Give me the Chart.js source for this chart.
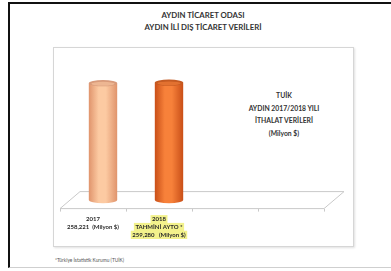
<!DOCTYPE html>
<html>
<head>
<meta charset="utf-8">
<script src="https://cdn.jsdelivr.net/npm/chart.js@4"></script>
<style>
  html, body { margin: 0; padding: 0; background: #fff; }
  #wrap { position: relative; width: 391px; height: 271px; overflow: hidden;
          font-family: Lato, "Open Sans", sans-serif; font-weight: bold; color: #333; }
  .frame { position: absolute; left: 8px; top: 2px; width: 390px; height: 266px;
           border-top: 2px solid #111; border-left: 2px solid #111; border-bottom: 1px solid #cfcfcf; box-sizing: border-box; }
  .box { position: absolute; left: 53px; top: 47px; width: 301px; height: 200px; box-sizing: border-box;
         border: 1.5px solid #d6d6d6; box-shadow: 1px 1px 2px rgba(0,0,0,0.12); background: #fff; }
  .title { position: absolute; left: 103px; width: 200px; text-align: center; font-size: 7.8px; line-height: 12px; top: 9px; }
  .note { position: absolute; left: 234px; width: 100px; text-align: center; font-size: 6.8px; line-height: 12.5px; top: 89px; }
  .foot { position: absolute; left: 55px; top: 257px; font-size: 4.8px; font-weight: normal; color: #555; }
  canvas { position: absolute; left: 0; top: 0; }
</style>
</head>
<body>
<div id="wrap">
  <div class="frame"></div>
  <div class="box"></div>
  <div class="title">AYDIN TİCARET ODASI<br>AYDIN İLİ DIŞ TİCARET VERİLERİ</div>
  <div class="note">TUİK<br>AYDIN 2017/2018 YILI<br>İTHALAT VERİLERİ<br>(Milyon $)</div>
  <div class="foot">*Türkiye İstatistik Kurumu (TUİK)</div>
  <canvas id="chart" width="391" height="271"></canvas>
</div>
<script>
// data
const categories = [
  ["2017", "258,221  (Milyon $)"],
  ["2018", "TAHMİNİ AYTO *", "259,280   (Milyon $)"],
  "",
  ""
];
const values = [258221, 259280, null, null];
const highlighted = 1; // label with yellow marker
// [edge, middle, cap] colours per bar
const barShades = [
  ["#e0946c", "#fccaa2", "#d89a7a"],
  ["#c94f18", "#f7813a", "#c45a22"]
];

const DEPTH_X = 20, DEPTH_Y = -17; // 3d floor depth
const TICK_FONT = { family: "Lato", size: 6, weight: "bold", lineHeight: 1.3 };
const TICK_LEN = 3, TICK_PAD = 4;

// yellow marker behind the 2018 label lines
const marker = {
  id: "marker",
  beforeDraw(chart) {
    const { ctx } = chart;
    const sx = chart.scales.x;
    const lines = categories[highlighted];
    const cx = sx.getPixelForTick(highlighted);
    const lh = TICK_FONT.size * TICK_FONT.lineHeight;
    const y0 = sx.top + TICK_LEN + TICK_PAD;
    ctx.save();
    ctx.font = `bold ${TICK_FONT.size}px Lato`;
    ctx.fillStyle = "#f3f28c";
    lines.forEach((t, j) => {
      const w = ctx.measureText(t).width + 3;
      ctx.fillRect(cx - w / 2, y0 + j * lh - 0.5, w, lh + 0.5);
    });
    ctx.restore();
  }
};

const floor = {
  id: "floor",
  beforeDatasetsDraw(chart) {
    const { ctx, chartArea: a } = chart;
    ctx.save();
    ctx.strokeStyle = "#c9c9c9";
    ctx.lineWidth = 1;
    ctx.beginPath();
    ctx.moveTo(a.left, a.bottom);
    ctx.lineTo(a.right, a.bottom);
    ctx.lineTo(a.right + DEPTH_X, a.bottom + DEPTH_Y);
    ctx.lineTo(a.left + DEPTH_X, a.bottom + DEPTH_Y);
    ctx.closePath();
    ctx.stroke();
    ctx.restore();
  }
};

const cylinders = {
  id: "cylinders",
  afterDatasetsDraw(chart) {
    const { ctx } = chart;
    const meta = chart.getDatasetMeta(0);
    meta.data.forEach((bar, i) => {
      if (values[i] == null) return;
      const p = bar.getProps(["x", "y", "base", "width"], true);
      const cx = p.x + DEPTH_X / 2, top = p.y + DEPTH_Y / 2, bot = p.base + DEPTH_Y / 2;
      const w = p.width, l = cx - w / 2, ry = w * 0.11;
      const [edge, mid, cap] = barShades[i];
      const g = ctx.createLinearGradient(l, 0, l + w, 0);
      g.addColorStop(0, edge);
      g.addColorStop(0.35, mid);
      g.addColorStop(0.6, mid);
      g.addColorStop(1, edge);
      ctx.save();
      ctx.fillStyle = g;
      ctx.beginPath();
      ctx.moveTo(l, top);
      ctx.lineTo(l, bot);
      ctx.ellipse(cx, bot, w / 2, ry, 0, Math.PI, 0, true);
      ctx.lineTo(l + w, top);
      ctx.closePath();
      ctx.fill();
      ctx.fillStyle = cap;
      ctx.beginPath();
      ctx.ellipse(cx, top, w / 2, ry, 0, 0, Math.PI * 2);
      ctx.fill();
      ctx.fillStyle = mid;
      ctx.globalAlpha = 0.6;
      ctx.beginPath();
      ctx.ellipse(cx, top + 0.6, w / 2 - 2.5, ry - 1.2, 0, 0, Math.PI * 2);
      ctx.fill();
      ctx.restore();
    });
  }
};

new Chart(document.getElementById("chart"), {
  type: "bar",
  data: {
    labels: categories,
    datasets: [{
      data: values,
      backgroundColor: "rgba(0,0,0,0)",
      categoryPercentage: 1,
      barPercentage: 0.43
    }]
  },
  options: {
    responsive: false,
    animation: false,
    layout: { padding: { left: 60, right: 67, top: 61, bottom: 28 } },
    plugins: { legend: { display: false }, tooltip: { enabled: false } },
    scales: {
      x: {
        border: { display: false },
        grid: { drawOnChartArea: false, drawTicks: true, tickLength: TICK_LEN, color: "#c9c9c9" },
        ticks: {
          font: TICK_FONT,
          color: "#2a2a2a",
          padding: TICK_PAD,
          maxRotation: 0,
          autoSkip: false
        }
      },
      y: { display: false, min: 0, max: 326000 }
    }
  },
  plugins: [marker, floor, cylinders]
});
</script>
</body>
</html>
